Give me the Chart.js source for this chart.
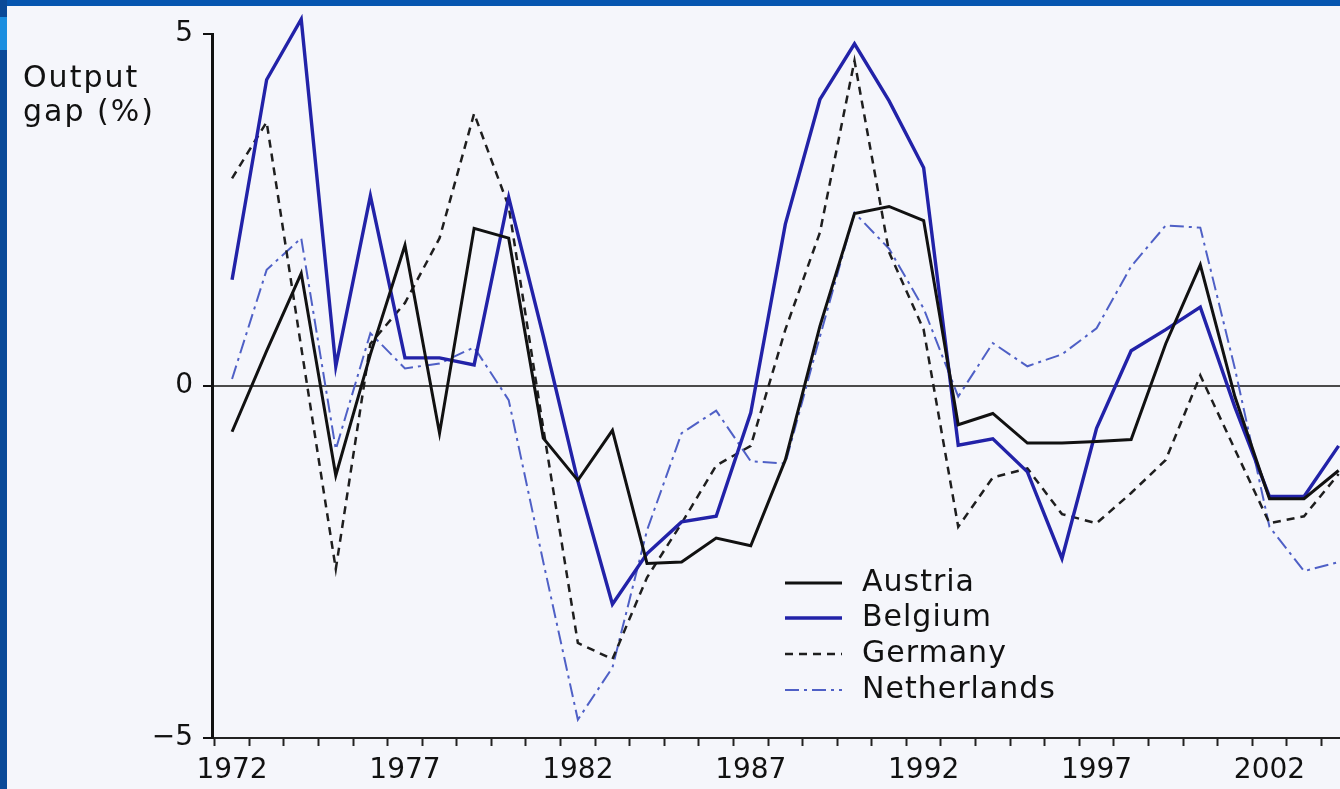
<!DOCTYPE html>
<html><head><meta charset="utf-8">
<script src="https://cdn.jsdelivr.net/npm/chart.js@4.4.1/dist/chart.umd.min.js"></script>
<style>
html,body{margin:0;padding:0;width:1340px;height:789px;overflow:hidden;background:#f5f6fb;}
#wrap{position:absolute;left:0;top:0;width:1340px;height:789px;}
#frameTop{position:absolute;left:0;top:0;width:1340px;height:6px;background:#0656b0;}
#frameLeft{position:absolute;left:0;top:0;width:7px;height:789px;background:#0a4a98;}
#frameLeftHi{position:absolute;left:0;top:17px;width:7px;height:33px;background:#1a8ee0;}
</style></head>
<body>
<div id="wrap"><canvas id="c" width="1340" height="789"></canvas></div>
<div id="frameTop"></div><div id="frameLeft"></div><div id="frameLeftHi"></div>
<script>
const years = [1972,1973,1974,1975,1976,1977,1978,1979,1980,1981,1982,1983,1984,1985,1986,1987,1988,1989,1990,1991,1992,1993,1994,1995,1996,1997,1998,1999,2000,2001,2002,2003,2004];
const austria = [-0.65,0.5,1.6,-1.27,0.45,2.0,-0.67,2.24,2.1,-0.74,-1.34,-0.63,-2.52,-2.5,-2.16,-2.27,-1.05,0.85,2.45,2.55,2.35,-0.55,-0.39,-0.81,-0.81,-0.79,-0.76,0.6,1.72,-0.15,-1.6,-1.6,-1.2];
const belgium = [1.51,4.35,5.21,0.28,2.7,0.4,0.4,0.3,2.68,0.71,-1.35,-3.1,-2.38,-1.93,-1.85,-0.38,2.3,4.07,4.86,4.05,3.1,-0.84,-0.75,-1.22,-2.45,-0.6,0.5,0.8,1.12,-0.3,-1.57,-1.57,-0.85];
const germany = [2.95,3.75,0.55,-2.6,0.6,1.18,2.1,3.87,2.55,-0.6,-3.65,-3.88,-2.72,-1.95,-1.13,-0.85,0.8,2.18,4.62,1.9,0.8,-2.0,-1.3,-1.17,-1.82,-1.95,-1.52,-1.05,0.15,-0.9,-1.95,-1.85,-1.25];
const netherlands = [0.1,1.65,2.1,-0.9,0.75,0.25,0.32,0.55,-0.2,-2.5,-4.74,-4.0,-2.05,-0.67,-0.35,-1.07,-1.1,0.7,2.46,1.95,1.1,-0.15,0.61,0.28,0.45,0.82,1.7,2.28,2.25,0.25,-2.0,-2.63,-2.5];
const seriesNames = ['Austria','Belgium','Germany','Netherlands'];
const yearLabels = [1972,1977,1982,1987,1992,1997,2002];
const yTicks = [-5,0,5];
const yTickText = {'5':'5','0':'0','-5':'\u22125'};
const titleLines = ['Output','gap (%)'];

const FONT = "'DejaVu Sans', sans-serif";
const toXY = vals => years.map((yr,i)=>({x:yr,y:vals[i]}));

const styles = [
  {borderColor:'#111111', borderWidth:3, borderDash:[]},
  {borderColor:'#2222a8', borderWidth:3.4, borderDash:[]},
  {borderColor:'#1e1e1e', borderWidth:2.5, borderDash:[8,6]},
  {borderColor:'#4f60c6', borderWidth:2, borderDash:[14,5,3,5]}
];
const allVals = [austria, belgium, germany, netherlands];

const datasets = allVals.map((v,i)=>Object.assign({
  label: seriesNames[i],
  data: toXY(v),
  pointRadius: 0,
  tension: 0,
  fill: false,
  clip: false,
  borderJoinStyle: 'miter',
  borderCapStyle: 'butt'
}, styles[i]));

const isLabelYear = v => yearLabels.indexOf(v) >= 0;

const overlay = {
  id: 'overlay',
  afterDraw(chart, args, opts) {
    const ctx = chart.ctx;
    ctx.save();
    ctx.fillStyle = '#111';
    ctx.font = '30px ' + FONT;
    ctx.textBaseline = 'alphabetic';
    ctx.textAlign = 'left';
    try { ctx.letterSpacing = '2px'; } catch(e) {}
    ctx.fillText(titleLines[0], opts.titleX, opts.titleY[0]);
    ctx.fillText(titleLines[1], opts.titleX, opts.titleY[1]);
    try { ctx.letterSpacing = '1px'; } catch(e) {}
    ctx.textBaseline = 'middle';
    chart.data.datasets.forEach((ds, i) => {
      const y = opts.legendY[i];
      ctx.beginPath();
      ctx.strokeStyle = ds.borderColor;
      ctx.lineWidth = ds.borderWidth;
      ctx.setLineDash(ds.borderDash || []);
      ctx.moveTo(opts.legendX0, y);
      ctx.lineTo(opts.legendX1, y);
      ctx.stroke();
      ctx.setLineDash([]);
      ctx.fillStyle = '#111';
      ctx.fillText(ds.label, opts.legendTextX, y);
    });
    ctx.restore();
  }
};

new Chart(document.getElementById('c'), {
  type: 'line',
  data: { datasets },
  plugins: [overlay],
  options: {
    responsive: false,
    animation: false,
    devicePixelRatio: 1,
    layout: { padding: { left: 0, right: 0, top: 34, bottom: 0 } },
    plugins: {
      legend: { display: false },
      tooltip: { enabled: false },
      overlay: {
        titleX: 23, titleY: [87, 121],
        legendX0: 785, legendX1: 842, legendTextX: 862,
        legendY: [583, 618, 654, 690]
      }
    },
    scales: {
      x: {
        type: 'linear',
        min: 1971.42,
        max: 2004.04,
        afterFit: s => { s.height = 51; },
        afterBuildTicks: s => {
          const t = [];
          for (let k = 0; k < years.length; k++) {
            t.push({value: years[k] - 0.5});
            if (isLabelYear(years[k])) t.push({value: years[k]});
          }
          s.ticks = t;
        },
        border: { display: true, color: '#222', width: 2 },
        grid: {
          drawOnChartArea: false,
          drawTicks: true,
          tickLength: 8,
          tickColor: c => (c.tick && isLabelYear(c.tick.value)) ? 'rgba(0,0,0,0)' : '#222',
          tickWidth: 2
        },
        ticks: {
          autoSkip: false,
          maxRotation: 0,
          padding: 8,
          color: '#111',
          font: { family: FONT, size: 28 },
          callback: v => isLabelYear(v) ? String(v) : ''
        }
      },
      y: {
        min: -5,
        max: 5,
        afterFit: s => { s.width = 212; },
        afterBuildTicks: s => { s.ticks = yTicks.map(v => ({value: v})); },
        border: { display: true, color: '#111', width: 3 },
        grid: {
          drawOnChartArea: true,
          drawTicks: true,
          tickLength: 9,
          color: c => (c.tick && c.tick.value === 0) ? '#4a4a4a' : 'rgba(0,0,0,0)',
          lineWidth: 2,
          tickColor: '#111',
          tickWidth: 2
        },
        ticks: {
          padding: 10,
          color: '#111',
          font: { family: FONT, size: 28 },
          callback: v => yTickText[String(v)]
        }
      }
    }
  }
});
</script>
</body></html>
